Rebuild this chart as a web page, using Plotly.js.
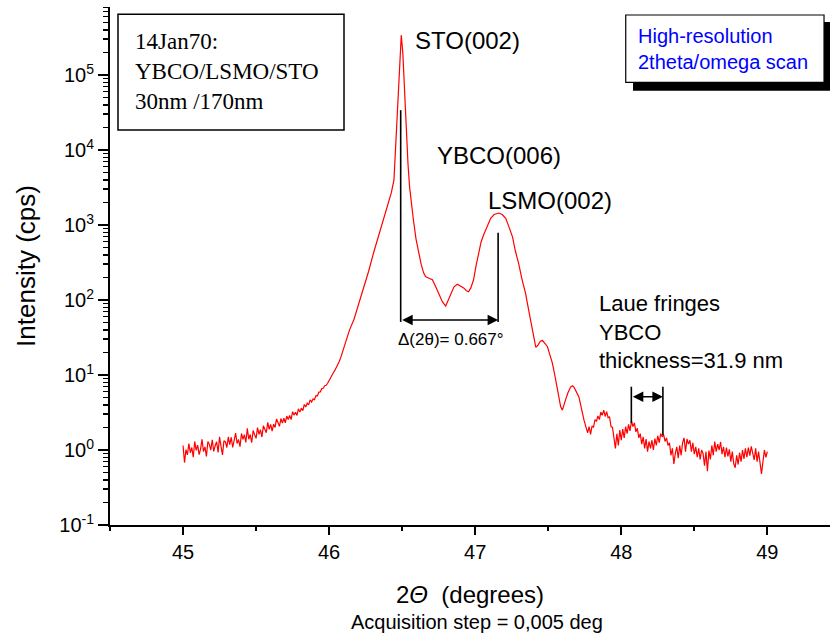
<!DOCTYPE html>
<html>
<head>
<meta charset="utf-8">
<script src="https://cdn.plot.ly/plotly-3.0.1.min.js"></script>
<style>html,body{margin:0;padding:0;background:#fff;}</style>
</head>
<body>
<div id="chart" style="width:830px;height:638px;"></div>
<script>
// 2theta/omega scan of YBCO/LSMO on STO, counts per second (0.005 deg step, thinned)
const twoTheta = [
  45.00,45.01,45.02,45.03,45.04,45.05,45.06,45.07,45.08,45.09,
  45.10,45.11,45.12,45.13,45.14,45.15,45.16,45.17,45.18,45.19,
  45.20,45.21,45.22,45.23,45.24,45.25,45.26,45.27,45.28,45.29,
  45.30,45.31,45.32,45.33,45.34,45.35,45.36,45.37,45.38,45.39,
  45.40,45.41,45.42,45.43,45.44,45.45,45.46,45.47,45.48,45.49,
  45.50,45.51,45.52,45.53,45.54,45.55,45.56,45.57,45.58,45.59,
  45.60,45.61,45.62,45.63,45.64,45.65,45.66,45.67,45.68,45.69,
  45.70,45.71,45.72,45.73,45.74,45.75,45.76,45.77,45.78,45.79,
  45.80,45.81,45.82,45.83,45.84,45.85,45.86,45.87,45.88,45.89,
  45.90,45.91,45.92,45.93,45.94,45.95,45.96,45.97,45.98,45.99,
  46.00,46.01,46.02,46.03,46.04,46.05,46.06,46.07,46.08,46.09,
  46.10,46.12,46.14,46.17,46.20,46.24,46.27,46.305,46.34,46.373,
  46.40,46.426,46.444,46.455,46.465,46.48,46.494,46.505,46.515,46.524,
  46.54,46.551,46.565,46.577,46.595,46.613,46.63,46.647,46.66,46.672,
  46.69,46.707,46.73,46.75,46.775,46.798,46.815,46.832,46.855,46.878,
  46.90,46.921,46.94,46.955,46.97,46.989,47.005,47.024,47.04,47.058,
  47.08,47.106,47.13,47.161,47.185,47.209,47.23,47.256,47.275,47.297,
  47.32,47.345,47.36,47.38,47.40,47.415,47.43,47.445,47.46,47.475,
  47.494,47.51,47.528,47.545,47.562,47.575,47.585,47.597,47.608,47.619,
  47.635,47.645,47.653,47.665,47.676,47.69,47.70,47.71,47.722,47.733,
  47.745,47.756,
  47.76,47.77,47.78,47.79,47.80,47.81,47.82,47.83,47.84,47.85,
  47.86,47.87,47.88,47.89,47.90,47.91,47.92,47.93,47.94,47.95,
  47.96,47.97,47.98,47.99,48.00,48.01,48.02,48.03,48.04,48.05,
  48.06,48.07,48.08,48.09,48.10,48.11,48.12,48.13,48.14,48.15,
  48.16,48.17,48.18,48.19,48.20,48.21,48.22,48.23,48.24,48.25,
  48.26,48.27,48.28,48.29,48.30,48.31,48.32,48.33,48.34,48.35,
  48.36,48.37,48.38,48.39,48.40,48.41,48.42,48.43,48.44,48.45,
  48.46,48.47,48.48,48.49,48.50,48.51,48.52,48.53,48.54,48.55,
  48.56,48.57,48.58,48.59,48.60,48.61,48.62,48.63,48.64,48.65,
  48.66,48.67,48.68,48.69,48.70,48.71,48.72,48.73,48.74,48.75,
  48.76,48.77,48.78,48.79,48.80,48.81,48.82,48.83,48.84,48.85,
  48.86,48.87,48.88,48.89,48.90,48.91,48.92,48.93,48.94,48.95,
  48.96,48.97,48.98,48.99,49.00
];
const intensity = [
  1.15,0.68,1.01,0.86,1.22,0.92,1.08,0.80,1.30,0.99,
  1.16,0.87,1.03,1.39,0.95,1.10,0.82,1.30,1.19,1.00,
  1.37,0.96,1.14,1.29,0.93,1.50,1.12,0.86,1.33,1.28,
  1.08,1.50,1.18,1.48,1.08,1.41,1.68,1.22,1.38,1.11,
  1.66,1.39,1.60,1.26,1.94,1.39,1.61,1.25,1.82,1.60,
  1.43,1.99,1.62,1.87,1.49,2.10,1.89,1.70,2.34,1.88,
  2.20,1.78,2.21,2.00,2.60,2.25,2.07,2.63,2.28,2.65,
  2.30,2.84,2.55,2.90,2.54,3.25,2.92,3.18,2.89,3.54,
  3.20,3.62,3.35,4.05,3.74,4.21,3.99,4.65,4.37,4.79,
  4.70,5.32,5.28,5.93,5.96,6.59,6.65,7.18,7.29,7.76,
  8.5,9.0,9.8,10.8,11.6,12.6,13.9,15.3,17.2,19.8,
  23.0,30,40,55,85,150,240,430,750,1175,
  1900,2700,4000,10000,30000,120000,340000,190000,70000,25000,
  6500,3200,1800,1175,650,430,300,230,205,200,
  192,186,150,123,95,83,98,117,150,162,
  155,145,133,129,145,186,280,427,590,740,
  960,1230,1380,1445,1380,1230,960,690,450,310,
  190,123,85,54,32,23.4,25,28,29,27,
  24,19,14.5,10,6.9,5.0,3.8,3.4,4.2,4.7,
  5.8,6.4,6.9,7.2,6.9,6.1,5.4,5.1,4.0,3.1,
  2.5,2.1,
  2.00,1.70,2.05,1.62,2.10,2.00,2.55,2.40,2.85,2.55,
  3.20,2.90,3.40,2.80,3.25,2.70,2.75,2.05,2.00,1.45,
  1.05,1.65,1.15,1.85,1.35,1.90,1.45,2.05,1.65,2.20,
  1.80,2.45,2.05,2.30,1.75,1.95,1.45,1.65,1.20,1.50,
  1.05,1.40,0.95,1.30,1.05,1.35,1.00,1.42,1.15,1.55,
  1.25,1.65,1.50,1.60,1.30,1.45,1.15,1.25,0.85,1.05,
  0.65,0.90,1.10,0.78,1.15,0.85,1.25,1.45,0.95,1.40,
  1.20,1.35,0.95,1.25,0.88,1.10,0.80,1.05,0.75,1.00,
  0.90,0.62,0.95,0.52,0.98,0.75,1.15,0.85,1.30,0.95,
  1.20,1.00,1.28,0.88,1.10,0.80,1.08,0.82,1.02,0.70,
  0.95,0.66,0.58,0.85,0.64,0.92,0.70,1.00,0.76,1.05,
  0.80,1.08,0.84,1.12,0.86,0.74,1.05,0.70,0.95,0.72,
  0.48,0.70,1.00,0.80,0.95
];

// Peak separation marker (STO(002) to LSMO(002))
const stoPeak = 46.49;
const deltaTwoTheta = 0.667;
const lsmoPeak = stoPeak + deltaTwoTheta;
const deltaArrowY = 54;
const stoMarkerTop = 34000, lsmoMarkerTop = 790, deltaMarkerBottom = 51;

// Laue fringe period marker
const laueLeft = 48.069, laueRight = 48.285;
const laueTop = 6.98, laueLeftBottom = 2.29, laueRightBottom = 1.585, laueArrowY = 5.14;

// Axis ticks
const decadeExponents = [-1, 0, 1, 2, 3, 4, 5];
const xRange = [44.5, 49.429];
const yLogRange = [-1, 5.907];

const decadeVals = decadeExponents.map(e => Math.pow(10, e));
const decadeText = decadeExponents.map(e => '10<sup>' + e + '</sup>');
const minorVals = [];
decadeExponents.forEach(e => { for (let m = 2; m <= 9; m++) minorVals.push(m * Math.pow(10, e)); });

const SANS = 'Arial, "Liberation Sans", sans-serif';
const SERIF = '"Times New Roman", "Liberation Serif", serif';

const trace = {
  x: twoTheta, y: intensity, type: 'scatter', mode: 'lines',
  line: {color: '#ff0000', width: 1.2}, hoverinfo: 'x+y'
};

function vline(x, y0, y1) {
  return {type: 'line', xref: 'x', yref: 'y', x0: x, x1: x, y0: y0, y1: y1,
          line: {color: '#000', width: 1.6}};
}
function doubleArrow(x0, x1, y) {
  return {x: x1, y: Math.log10(y), ax: x0, ay: Math.log10(y), xref: 'x', yref: 'y',
          axref: 'x', ayref: 'y', text: '', showarrow: true, arrowside: 'end+start',
          arrowhead: 2, arrowsize: 1.4, arrowwidth: 1.5, arrowcolor: '#000',
          standoff: 0, startstandoff: 0};
}
function label(text, x, logY, size, extra) {
  return Object.assign({text: text, x: x, y: logY, xref: 'x', yref: 'y',
          xanchor: 'left', yanchor: 'middle', align: 'left', showarrow: false,
          font: {family: SANS, size: size, color: '#000'}}, extra || {});
}

const layout = {
  width: 830, height: 638,
  margin: {l: 110, r: 0, t: 7, b: 113},
  paper_bgcolor: '#fff', plot_bgcolor: '#fff',
  showlegend: false,
  font: {family: SANS, color: '#000', size: 20},
  xaxis: {
    range: xRange, tickmode: 'linear', tick0: 45, dtick: 1,
    ticks: 'outside', ticklen: 8, tickwidth: 2, tickcolor: '#000',
    minor: {tick0: 44.5, dtick: 0.5, ticks: 'outside', ticklen: 4, tickwidth: 2, tickcolor: '#000', showgrid: false},
    showline: true, linewidth: 2, linecolor: '#000', showgrid: false, zeroline: false,
    tickfont: {family: SANS, size: 20},
    title: {text: '2<i>\u0398</i>\u00a0\u00a0(degrees)', font: {family: SANS, size: 24}, standoff: 24}
  },
  xaxis2: {
    overlaying: 'x', side: 'top', anchor: 'y', range: xRange,
    tickmode: 'linear', tick0: 45, dtick: 0.5, ticks: 'inside', ticklen: 3, tickwidth: 1.5, tickcolor: '#000',
    showticklabels: false, showline: true, linewidth: 2, linecolor: '#000', showgrid: false, zeroline: false
  },
  yaxis: {
    type: 'log', range: yLogRange,
    tickmode: 'array', tickvals: decadeVals, ticktext: decadeText,
    ticks: 'outside', ticklen: 10, tickwidth: 2, tickcolor: '#000',
    minor: {tickmode: 'array', tickvals: minorVals, ticks: 'outside', ticklen: 5, tickwidth: 1.5, tickcolor: '#000', showgrid: false},
    showline: true, linewidth: 2, linecolor: '#000', showgrid: false, zeroline: false,
    tickfont: {family: SANS, size: 20},
    title: {text: 'Intensity (cps)', font: {family: SANS, size: 26}, standoff: 16}
  },
  shapes: [
    vline(stoPeak, deltaMarkerBottom, stoMarkerTop),
    vline(lsmoPeak, deltaMarkerBottom, lsmoMarkerTop),
    vline(laueLeft, laueLeftBottom, laueTop),
    vline(laueRight, laueRightBottom, laueTop),
    // sample description box
    {type: 'rect', xref: 'paper', yref: 'paper', x0: 0.0111, x1: 0.325, y0: 0.7625, y1: 0.986,
     line: {color: '#000', width: 1.5}, fillcolor: 'rgba(0,0,0,0)'},
    // scan-type box with drop shadow
    {type: 'rect', xref: 'paper', yref: 'paper', x0: 0.7264, x1: 1.01, y0: 0.8384, y1: 0.971,
     line: {width: 0}, fillcolor: '#000'},
    {type: 'rect', xref: 'paper', yref: 'paper', x0: 0.7163, x1: 0.9917, y0: 0.8546, y1: 0.9846,
     line: {color: '#000', width: 1.2}, fillcolor: '#fff'}
  ],
  annotations: [
    doubleArrow(stoPeak, lsmoPeak, deltaArrowY),
    doubleArrow(laueLeft, laueRight, laueArrowY),
    label('STO(002)', 46.572, 5.467, 24),
    label('YBCO(006)', 46.722, 3.933, 24),
    label('LSMO(002)', 47.071, 3.333, 24),
    label('Laue fringes<br>YBCO<br>thickness=31.9 nm', 47.831, 1.567, 22),
    label('\u0394(2\u03b8)= 0.667\u00b0', 46.455, 1.467, 17),
    {text: '14Jan70:<br>YBCO/LSMO/STO<br>30nm /170nm', xref: 'paper', yref: 'paper',
     x: 0.0319, y: 0.875, xanchor: 'left', yanchor: 'middle', align: 'left', showarrow: false,
     font: {family: SERIF, size: 23, color: '#000'}},
    {text: 'High-resolution<br>2theta/omega scan', xref: 'paper', yref: 'paper',
     x: 0.731, y: 0.9192, xanchor: 'left', yanchor: 'middle', align: 'left', showarrow: false,
     font: {family: SANS, size: 20, color: '#0000ff'}},
    {text: 'Acquisition step = 0,005 deg', xref: 'paper', yref: 'paper',
     x: 0.51, y: -0.1875, xanchor: 'center', yanchor: 'middle', showarrow: false,
     font: {family: SANS, size: 20, color: '#000'}}
  ]
};

Plotly.newPlot('chart', [trace], layout, {displayModeBar: false, staticPlot: true});
</script>
</body>
</html>
